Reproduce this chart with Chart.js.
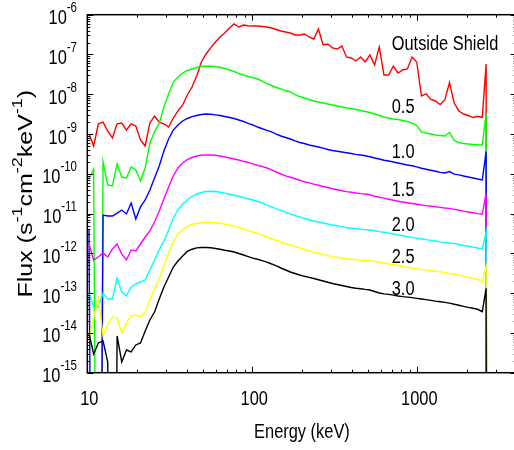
<!DOCTYPE html>
<html><head><meta charset="utf-8">
<script src="https://cdn.jsdelivr.net/npm/chart.js@4.4.1/dist/chart.umd.min.js"></script>
<style>html,body{margin:0;padding:0;overflow:hidden;background:#fff}canvas{display:block}</style>
</head><body>
<canvas id="c" width="520" height="450"></canvas>
<script>
// ---- data (energy in keV, flux in s^-1 cm^-2 keV^-1); 0 = no counts ----
const energy = [10.24,10.93,11.67,12.46,13.30,14.20,15.16,16.18,17.27,18.44,
 19.68,21.01,22.43,23.95,25.56,27.29,29.13,31.10,33.20,35.44,
 37.84,40.39,43.12,46.03,49.14,52.46,56.00,59.78,63.82,68.13,
 72.73,77.63,82.87,88.47,94.45,100.8,107.6,114.9,122.7,130.9,
 139.8,149.2,159.3,170.1,181.6,193.8,206.9,220.9,235.8,251.7,
 268.7,286.9,306.2,326.9,349.0,372.6,397.7,424.6,453.3,483.9,
 516.4,551.3,588.6,628.3,670.7,716.0,764.4,816.0,871.1,929.8,
 992.7,1060,1131,1208,1289,1376,1469,1568,1674,1787,
 1908,2037,2175,2321,2478,2614,2650];

const fluxOutside = [1.0e-9,5.0e-10,1.8e-9,2.0e-9,1.19e-9,8.0e-10,1.8e-9,1.89e-9,1.26e-9,1.8e-9,
 1.59e-9,7.1e-10,5.0e-10,1.9e-9,2.84e-9,2.0e-9,1.8e-9,1.5e-9,2.53e-9,3.8e-9,
 5.37e-9,9.58e-9,1.52e-8,2.88e-8,6.47e-8,1.03e-7,1.46e-7,2.06e-7,2.75e-7,3.47e-7,
 4.63e-7,5.84e-7,4.91e-7,5.51e-7,5.29e-7,5.2e-7,5.2e-7,5.05e-7,4.91e-7,4.63e-7,
 4.25e-7,3.89e-7,3.67e-7,3.47e-7,3.09e-7,3.09e-7,3.27e-7,2.75e-7,2.45e-7,4.37e-7,
 1.73e-7,1.83e-7,1.46e-7,1.37e-7,1.63e-7,8.64e-8,8.15e-8,6.86e-8,8.64e-8,6.47e-8,
 9.7e-8,5.44e-8,1.54e-7,3.05e-8,3.05e-8,5.13e-8,3.42e-8,4.07e-8,4.32e-8,8.64e-8,
 6.47e-8,9.04e-9,1.02e-8,7.38e-9,6.77e-9,5.53e-9,7.17e-9,1.97e-8,6.03e-9,3.8e-9,
 3.19e-9,2.92e-9,2.6e-9,2.79e-9,2.63e-9,5.76e-8,0];

const flux05 = [7.4e-11,1.32e-10,0,1.98e-10,5.24e-11,4.95e-11,1.77e-10,8.3e-11,7.86e-11,1.48e-10,
 1.25e-10,6.6e-11,1.4e-10,5.9e-10,1.16e-9,1.85e-9,4.78e-9,1.02e-8,2.03e-8,2.72e-8,
 3.42e-8,3.96e-8,4.32e-8,4.71e-8,5.04e-8,5.04e-8,5.04e-8,4.98e-8,4.71e-8,4.44e-8,
 4.07e-8,3.73e-8,3.32e-8,3.05e-8,2.8e-8,2.64e-8,2.42e-8,2.15e-8,1.86e-8,1.66e-8,
 1.48e-8,1.36e-8,1.24e-8,1.14e-8,9.8e-9,8.77e-9,8.06e-9,7.38e-9,6.77e-9,6.39e-9,
 6.03e-9,5.69e-9,5.37e-9,5.07e-9,4.78e-9,4.51e-9,4.38e-9,4.14e-9,3.91e-9,3.69e-9,
 3.48e-9,3.19e-9,2.92e-9,2.68e-9,2.53e-9,2.39e-9,2.32e-9,2.19e-9,2.07e-9,1.89e-9,
 1.64e-9,1.13e-9,1.06e-9,1.0e-9,9.45e-10,9.2e-10,8.9e-10,1.09e-9,6.88e-10,6.13e-10,
 5.79e-10,5.62e-10,5.46e-10,5.31e-10,5.31e-10,3.32e-9,0];

const flux10 = [3.87e-12,0,0,9.2e-12,8.7e-12,8.7e-12,1.03e-11,1.23e-11,9.8e-12,1.85e-11,
 7.3e-12,1.47e-11,2.2e-11,3.92e-11,7.86e-11,1.57e-10,3.75e-10,7.5e-10,1.26e-9,1.69e-9,
 2.13e-9,2.46e-9,2.73e-9,2.93e-9,3.1e-9,3.19e-9,3.15e-9,3.04e-9,2.93e-9,2.76e-9,
 2.6e-9,2.46e-9,2.25e-9,2.07e-9,1.86e-9,1.69e-9,1.5e-9,1.36e-9,1.23e-9,1.13e-9,
 1.0e-9,8.93e-10,8.2e-10,7.5e-10,6.7e-10,6.13e-10,5.79e-10,5.31e-10,5.0e-10,4.73e-10,
 4.41e-10,4.09e-10,3.86e-10,3.7e-10,3.54e-10,3.38e-10,3.24e-10,3.09e-10,2.97e-10,2.84e-10,
 2.68e-10,2.5e-10,2.36e-10,2.2e-10,2.1e-10,1.98e-10,1.87e-10,1.77e-10,1.67e-10,1.59e-10,
 1.5e-10,1.38e-10,1.3e-10,1.23e-10,1.16e-10,1.09e-10,1.05e-10,1.14e-10,9.8e-11,9.4e-11,
 8.8e-11,8.3e-11,7.86e-11,7.4e-11,7.0e-11,3.6e-10,0];

const flux15 = [1.72e-12,6.8e-13,8.1e-13,1.02e-12,8.1e-13,1.29e-12,1.72e-12,9.6e-13,6.8e-13,1.22e-12,
 1.15e-12,1.72e-12,2.58e-12,3.66e-12,6.16e-12,1.16e-11,2.33e-11,4.67e-11,8.8e-11,1.4e-10,
 1.87e-10,2.29e-10,2.57e-10,2.81e-10,2.94e-10,2.97e-10,2.97e-10,2.92e-10,2.81e-10,2.65e-10,
 2.5e-10,2.36e-10,2.23e-10,2.06e-10,1.93e-10,1.77e-10,1.64e-10,1.53e-10,1.4e-10,1.25e-10,
 1.11e-10,9.9e-11,8.9e-11,8.2e-11,7.5e-11,6.9e-11,6.3e-11,5.9e-11,5.5e-11,5.15e-11,
 4.8e-11,4.53e-11,4.22e-11,3.97e-11,3.74e-11,3.57e-11,3.43e-11,3.29e-11,3.18e-11,3.11e-11,
 2.97e-11,2.72e-11,2.58e-11,2.44e-11,2.3e-11,2.17e-11,2.05e-11,1.96e-11,1.87e-11,1.79e-11,
 1.72e-11,1.64e-11,1.59e-11,1.53e-11,1.48e-11,1.43e-11,1.38e-11,1.35e-11,1.28e-11,1.21e-11,
 1.15e-11,1.1e-11,1.05e-11,1.0e-11,9.6e-12,3.24e-11,0];

const flux20 = [1.0e-13,4.49e-14,4.49e-14,1.0e-13,7.1e-14,7.1e-14,2.4e-13,1.07e-13,8.5e-14,1.43e-13,
 1.7e-13,1.91e-13,2.14e-13,3.82e-13,6.8e-13,1.22e-12,2.05e-12,3.87e-12,7.76e-12,1.23e-11,
 1.74e-11,2.2e-11,2.69e-11,3.11e-11,3.39e-11,3.59e-11,3.63e-11,3.59e-11,3.43e-11,3.26e-11,
 3.07e-11,2.9e-11,2.72e-11,2.54e-11,2.36e-11,2.2e-11,2.01e-11,1.85e-11,1.64e-11,1.47e-11,
 1.32e-11,1.2e-11,1.08e-11,9.8e-12,8.9e-12,8.2e-12,7.6e-12,7.0e-12,6.5e-12,6.16e-12,
 5.81e-12,5.48e-12,5.17e-12,4.94e-12,4.71e-12,4.47e-12,4.27e-12,4.15e-12,4.03e-12,3.96e-12,
 3.87e-12,3.7e-12,3.53e-12,3.39e-12,3.22e-12,3.07e-12,2.9e-12,2.77e-12,2.64e-12,2.52e-12,
 2.39e-12,2.3e-12,2.21e-12,2.12e-12,2.04e-12,1.95e-12,1.89e-12,1.82e-12,1.76e-12,1.67e-12,
 1.58e-12,1.51e-12,1.43e-12,1.36e-12,1.29e-12,3.51e-12,0];

const flux25 = [6.6e-15,2.37e-14,7.56e-14,8.4e-15,1.68e-14,2.52e-14,2.37e-14,1.0e-14,1.78e-14,2.67e-14,
 2.83e-14,2.52e-14,3.36e-14,6.7e-14,1.27e-13,2.27e-13,4.82e-13,1.02e-12,1.93e-12,3.07e-12,
 3.98e-12,4.74e-12,5.32e-12,5.7e-12,5.94e-12,6.05e-12,6.02e-12,5.87e-12,5.7e-12,5.42e-12,
 5.08e-12,4.79e-12,4.44e-12,4.1e-12,3.76e-12,3.45e-12,3.12e-12,2.85e-12,2.58e-12,2.33e-12,
 2.11e-12,1.93e-12,1.77e-12,1.62e-12,1.49e-12,1.37e-12,1.24e-12,1.15e-12,1.06e-12,9.9e-13,
 9.3e-13,8.8e-13,8.3e-13,8.0e-13,7.6e-13,7.3e-13,7.1e-13,6.9e-13,6.7e-13,6.6e-13,
 6.5e-13,6.24e-13,5.97e-13,5.73e-13,5.47e-13,5.23e-13,4.96e-13,4.71e-13,4.5e-13,4.29e-13,
 4.05e-13,3.91e-13,3.78e-13,3.65e-13,3.54e-13,3.42e-13,3.29e-13,3.14e-13,2.98e-13,2.83e-13,
 2.67e-13,2.5e-13,2.35e-13,2.21e-13,1.94e-13,4.63e-13,0];

const flux30 = [9.4e-15,2.96e-15,5.6e-15,6.3e-15,1.86e-15,0,8.4e-15,1.86e-15,3.72e-15,3.32e-15,
 4.98e-15,5.6e-15,1.12e-14,2.11e-14,3.36e-14,7.1e-14,1.43e-13,2.55e-13,4.54e-13,6.43e-13,
 8.6e-13,1.12e-12,1.27e-12,1.37e-12,1.41e-12,1.41e-12,1.38e-12,1.33e-12,1.27e-12,1.2e-12,
 1.15e-12,1.08e-12,9.9e-13,9.1e-13,8.3e-13,7.6e-13,7.1e-13,6.55e-13,6.0e-13,5.41e-13,
 4.82e-13,4.29e-13,3.82e-13,3.4e-13,3.12e-13,2.86e-13,2.65e-13,2.5e-13,2.34e-13,2.17e-13,
 2.02e-13,1.88e-13,1.75e-13,1.65e-13,1.56e-13,1.47e-13,1.39e-13,1.33e-13,1.29e-13,1.24e-13,
 1.2e-13,1.1e-13,1.01e-13,9.6e-14,9.3e-14,8.9e-14,8.5e-14,8.2e-14,7.96e-14,7.7e-14,
 7.4e-14,7.1e-14,6.85e-14,6.6e-14,6.3e-14,6.06e-14,5.85e-14,5.6e-14,5.27e-14,4.95e-14,
 4.65e-14,4.38e-14,4.16e-14,3.93e-14,3.42e-14,1.32e-13,0];

const seriesNames = ['Outside Shield','0.5','1.0','1.5','2.0','2.5','3.0'];
const seriesFlux = [fluxOutside, flux05, flux10, flux15, flux20, flux25, flux30];
const seriesColors = ['#ff0000','#00ff00','#0000ff','#ff00ff','#00ffff','#ffff00','#000000'];
// in-plot label anchors (energy, flux) for each curve name
const labelEnergy = 700;
const labelFlux = [1.3e-7, 3.4e-9, 2.5e-10, 2.8e-11, 3.6e-12, 5.7e-13, 9.0e-14];

const xTicks = [10, 100, 1000];
const xTickLabels = ['10', '100', '1000'];
const yTicks = [1e-6,1e-7,1e-8,1e-9,1e-10,1e-11,1e-12,1e-13,1e-14,1e-15];
const yTickExp = ['-6','-7','-8','-9','-10','-11','-12','-13','-14','-15'];
const X_MIN = 10, X_MAX = 4000, Y_MIN = 1e-15, Y_MAX = 1e-6;
const ZERO_FLOOR = 1e-30; // zero counts drawn off the bottom of the log axis

// ---- font handling ----
const REG = '"Liberation Sans", Arial, sans-serif';
const probe = document.createElement('canvas').getContext('2d');
probe.font = '20px "Liberation Sans Narrow", "Liberation Sans"';
const wN = probe.measureText('1000 Energy (keV)').width;
probe.font = '20px "Liberation Sans"';
const wR = probe.measureText('1000 Energy (keV)').width;
const HAS_NARROW = wN < wR * 0.92;
const FONT = HAS_NARROW ? '"Liberation Sans Narrow", "Liberation Sans", Arial, sans-serif' : REG;
const SX = HAS_NARROW ? 1 : 0.82;

function richWidth(ctx, parts, size, supSize, font, sx) {
  let w = 0;
  for (const [s, sup] of parts) { ctx.font = (sup ? supSize : size) + 'px ' + font; w += ctx.measureText(s).width * sx; }
  return w;
}
function drawRich(ctx, parts, x, y, size, supSize, supRise, align, font = FONT, sx = SX) {
  const w = richWidth(ctx, parts, size, supSize, font, sx);
  let cx = align === 'center' ? x - w / 2 : align === 'right' ? x - w : x;
  for (const [s, sup] of parts) {
    ctx.font = (sup ? supSize : size) + 'px ' + font;
    const sw = ctx.measureText(s).width * sx;
    ctx.save(); ctx.translate(cx, y - (sup ? supRise : 0)); ctx.scale(sx, 1);
    ctx.fillText(s, 0, 0); ctx.restore();
    cx += sw;
  }
}

const decor = {
  id: 'decor',
  beforeDraw(chart) {
    const c = chart.ctx; c.save(); c.fillStyle = '#fff'; c.fillRect(0, 0, chart.width, chart.height); c.restore();
  },
  afterDraw(chart) {
    const ctx = chart.ctx, a = chart.chartArea, xs = chart.scales.x, ys = chart.scales.y;
    ctx.save();
    ctx.strokeStyle = '#000'; ctx.fillStyle = '#000'; ctx.lineWidth = 1.5;
    ctx.textAlign = 'left'; ctx.textBaseline = 'alphabetic';
    ctx.strokeRect(a.left, a.top, a.right - a.left, a.bottom - a.top);
    ctx.lineWidth = 1;
    const seg = (x1, y1, x2, y2) => { ctx.beginPath(); ctx.moveTo(x1, y1); ctx.lineTo(x2, y2); ctx.stroke(); };
    // x ticks (major + minor), bottom and top, pointing inward
    for (let dec = 10; dec <= 1000; dec *= 10) {
      for (let m = 1; m <= 9; m++) {
        const v = m * dec; if (v > X_MAX) break;
        const px = Math.round(xs.getPixelForValue(v)) + 0.5, len = m === 1 ? 6 : 3;
        seg(px, a.bottom, px, a.bottom - len); seg(px, a.top, px, a.top + len);
      }
    }
    // y ticks
    for (let e = -15; e <= -6; e++) {
      for (let m = 1; m <= 9; m++) {
        const v = m * Math.pow(10, e); if (v > Y_MAX * 1.0001) break;
        const py = Math.round(ys.getPixelForValue(v)) + 0.5, len = m === 1 ? 6 : 3;
        seg(a.left, py, a.left + len, py); seg(a.right, py, a.right - len, py);
      }
    }
    // x tick labels
    xTicks.forEach((v, i) => {
      drawRich(ctx, [[xTickLabels[i], false]], xs.getPixelForValue(v) + 2, a.bottom + 32, 20, 14, 0, 'center');
    });
    // y tick labels 10^n
    yTicks.forEach((v, i) => {
      const py = ys.getPixelForValue(v);
      drawRich(ctx, [['10', false], [yTickExp[i], true]], 77, py + 9.5, 20, 14, 12, 'right');
    });
    // axis titles
    drawRich(ctx, [['Energy (keV)', false]], (a.left + a.right) / 2, a.bottom + 65, 20, 14, 0, 'center');
    ctx.save();
    ctx.translate(31.5, (a.top + a.bottom) / 2);
    ctx.rotate(-Math.PI / 2);
    ctx.scale(1, 0.82);
    drawRich(ctx, [['Flux (s', false], ['-1', true], ['cm', false], ['-2', true], ['keV', false], ['-1', true], [')', false]],
      0, 0, 25, 18, 11, 'center', REG, 1);
    ctx.restore();
    // curve labels
    seriesNames.forEach((n, i) => {
      drawRich(ctx, [[n, false]], xs.getPixelForValue(labelEnergy), ys.getPixelForValue(labelFlux[i]), 20, 14, 0, 'left');
    });
    ctx.restore();
  }
};

const datasets = seriesNames.map((n, i) => ({
  label: n,
  data: energy.map((e, j) => ({ x: e, y: seriesFlux[i][j] > 0 ? seriesFlux[i][j] : ZERO_FLOOR })),
  borderColor: seriesColors[i],
  backgroundColor: seriesColors[i],
  borderWidth: 1.4,
  pointRadius: 0,
  tension: 0,
  fill: false,
  order: seriesNames.length - 1 - i   // lower curves drawn on top
}));

new Chart(document.getElementById('c'), {
  type: 'line',
  data: { datasets },
  options: {
    responsive: false,
    animation: false,
    events: [],
    layout: { padding: { left: 87.3, right: 3.4, top: 14.7, bottom: 77.3 } },
    plugins: { legend: { display: false }, tooltip: { enabled: false } },
    scales: {
      x: { type: 'logarithmic', min: X_MIN, max: X_MAX, display: false },
      y: { type: 'logarithmic', min: Y_MIN, max: Y_MAX, display: false }
    }
  },
  plugins: [decor]
});
</script>
</body></html>
